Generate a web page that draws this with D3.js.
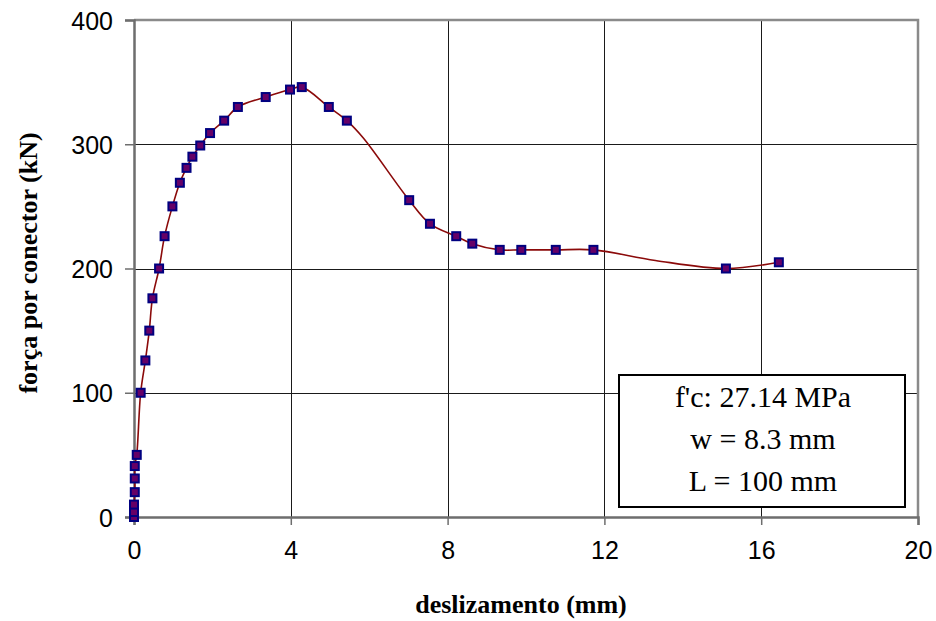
<!DOCTYPE html>
<html>
<head>
<meta charset="utf-8">
<script src="https://cdn.jsdelivr.net/npm/d3@7"></script>
<style>
  html, body { margin: 0; padding: 0; background: #fff; }
  svg { display: block; }
</style>
</head>
<body>
<svg id="chart" width="936" height="621"></svg>
<script>
// ---- data ----
const slipMM = [0, 0, 0, 0.02, 0.02, 0.02, 0.07, 0.17, 0.29, 0.39, 0.47, 0.64, 0.78, 0.98,
  1.17, 1.34, 1.49, 1.69, 1.94, 2.30, 2.65, 3.36, 3.98, 4.28, 4.97, 5.43, 7.02, 7.55,
  8.22, 8.63, 9.33, 9.88, 10.76, 11.72, 15.10, 16.45];
const forceKN = [0, 4, 10, 20, 31, 41, 50, 100, 126, 150, 176, 200, 226, 250,
  269, 281, 290, 299, 309, 319, 330, 338, 344, 346, 330, 319, 255, 236,
  226, 220, 215, 215, 215, 215, 200, 205];
// extra points along the drawn curve (no marker)
const curveOnlyX = [5.85, 13.3];
const curveOnlyY = [305, 206.5];

const xTicks = [0, 4, 8, 12, 16, 20];
const yTicks = [0, 100, 200, 300, 400];
const xTitle = "deslizamento (mm)";
const yTitle = "força por conector (kN)";
const noteLines = ["f'c: 27.14 MPa", "w = 8.3 mm", "L = 100 mm"];

// ---- drawing ----
(function () {
const svg = d3.select("#chart");
const pLeft = 134, pRight = 918, pTop = 20, pBottom = 517;
const x = d3.scaleLinear().domain([0, 20]).range([pLeft, pRight]);
const y = d3.scaleLinear().domain([0, 400]).range([pBottom, pTop]);

const sans = "'Liberation Sans', Arial, sans-serif";
const serif = "'Liberation Serif', 'Times New Roman', serif";

// gridlines
const grid = svg.append("g");
grid.selectAll("line.v").data(xTicks.filter(d => d > 0 && d < 20)).join("line")
  .attr("x1", d => Math.round(x(d)) + 0.5).attr("x2", d => Math.round(x(d)) + 0.5)
  .attr("y1", pTop).attr("y2", pBottom)
  .attr("stroke", "#1a1a1a").attr("stroke-width", 1);
grid.selectAll("line.h").data(yTicks.filter(d => d > 0 && d < 400)).join("line")
  .attr("y1", d => Math.round(y(d)) + 0.5).attr("y2", d => Math.round(y(d)) + 0.5)
  .attr("x1", pLeft).attr("x2", pRight)
  .attr("stroke", "#1a1a1a").attr("stroke-width", 1);

// top and right border
svg.append("path")
  .attr("d", `M${pLeft},${pTop}H${pRight}V${pBottom}`)
  .attr("fill", "none").attr("stroke", "#8a8a8a").attr("stroke-width", 2.5);

// axes
const xAxis = d3.axisBottom(x).tickValues(xTicks).tickSize(8).tickPadding(16).tickFormat(d3.format("d"));
const yAxis = d3.axisLeft(y).tickValues(yTicks).tickSize(9).tickPadding(12).tickFormat(d3.format("d"));

const gx = svg.append("g").attr("transform", `translate(0,${pBottom})`).call(xAxis);
const gy = svg.append("g").attr("transform", `translate(${pLeft},0)`).call(yAxis);
[gx, gy].forEach(g => {
  g.select(".domain").attr("stroke", "#6e6e6e").attr("stroke-width", 2.5);
  g.selectAll(".tick line").attr("stroke", "#6e6e6e").attr("stroke-width", 1.5);
  g.selectAll(".tick text").attr("fill", "#000").attr("font-family", sans).attr("font-size", 25);
});
gy.selectAll(".tick text").attr("dy", "0.36em");

// curve
const markers = slipMM.map((v, i) => ({ x: v, y: forceKN[i] }));
const extras = curveOnlyX.map((v, i) => ({ x: v, y: curveOnlyY[i] }));
const curvePts = markers.concat(extras).sort((a, b) => a.x - b.x);
const line = d3.line().x(d => x(d.x)).y(d => y(d.y)).curve(d3.curveCatmullRom.alpha(0.5));
svg.append("path").datum(curvePts)
  .attr("d", line)
  .attr("fill", "none").attr("stroke", "#8b0a0a").attr("stroke-width", 1.6);

// markers
const ms = 8;
svg.append("g").selectAll("rect").data(markers).join("rect")
  .attr("x", d => x(d.x) - ms / 2).attr("y", d => y(d.y) - ms / 2)
  .attr("width", ms).attr("height", ms)
  .attr("fill", "#660066").attr("stroke", "#000080").attr("stroke-width", 2);

// note box
const box = { x0: 619, y0: 375, x1: 905, y1: 507 };
svg.append("rect")
  .attr("x", box.x0).attr("y", box.y0)
  .attr("width", box.x1 - box.x0).attr("height", box.y1 - box.y0)
  .attr("fill", "#fff").attr("stroke", "#000").attr("stroke-width", 2);
svg.append("g").selectAll("text").data(noteLines).join("text")
  .attr("x", (box.x0 + box.x1) / 2 + 1)
  .attr("y", (d, i) => 407 + i * 42)
  .attr("text-anchor", "middle")
  .attr("font-family", serif).attr("font-size", 30)
  .attr("fill", "#000")
  .text(d => d);

// axis titles
svg.append("text")
  .attr("x", 521).attr("y", 613)
  .attr("text-anchor", "middle")
  .attr("font-family", serif).attr("font-weight", "bold").attr("font-size", 26)
  .text(xTitle);
svg.append("text")
  .attr("transform", `translate(37,263) rotate(-90)`)
  .attr("text-anchor", "middle")
  .attr("font-family", serif).attr("font-weight", "bold").attr("font-size", 26)
  .text(yTitle);
})();
</script>
</body>
</html>
